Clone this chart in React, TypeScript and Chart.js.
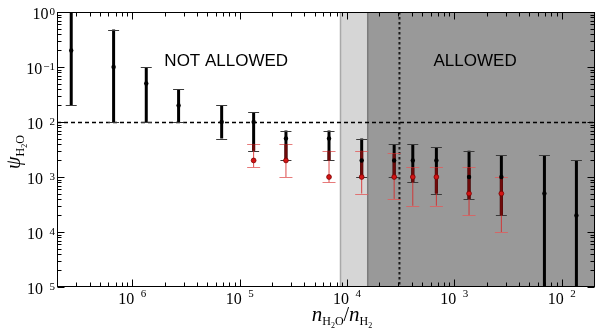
import React, { useEffect, useRef } from "react";
import { Chart, registerables } from "chart.js";

Chart.register(...registerables);

// ---- data ----
const xValues = [2.7e-7, 6.7e-7, 1.35e-6, 2.7e-6, 6.8e-6, 1.35e-5, 2.7e-5, 6.8e-5, 1.37e-4, 2.75e-4, 4.1e-4, 6.8e-4, 1.37e-3, 2.74e-3, 6.9e-3, 1.37e-2];
const blackCenter = [0.2, 0.1, 0.05, 0.02, 0.01, 0.01, 0.005, 0.005, 0.002, 0.002, 0.002, 0.002, 0.001, 0.001, 0.0005, 0.0002];
const blackHigh = [2, 0.48, 0.1, 0.04, 0.02, 0.015, 0.007, 0.007, 0.005, 0.004, 0.004, 0.0035, 0.003, 0.0025, 0.0025, 0.002];
const blackLow = [0.02, 0.01, 0.01, 0.01, 0.005, 0.003, 0.002, 0.002, 0.001, 0.001, 0.0008, 0.0005, 0.0004, 0.0002, 1e-6, 1e-6];

const redX = [1.35e-5, 2.7e-5, 6.8e-5, 1.37e-4, 2.75e-4, 4.1e-4, 6.8e-4, 1.37e-3, 2.74e-3];
const redCenter = [0.002, 0.002, 0.001, 0.001, 0.001, 0.001, 0.001, 0.0005, 0.0005];
const redHigh = [0.004, 0.004, 0.003, 0.003, 0.0027, 0.0015, 0.0015, 0.0015, 0.001];
const redLow = [0.0015, 0.001, 0.0008, 0.0005, 0.0004, 0.0003, 0.0003, 0.0002, 0.0001];

const xRange = [1.99e-7, 0.0205];
const yRange = [1e-5, 1];

const xTickValues = [1e-6, 1e-5, 1e-4, 1e-3, 1e-2];
const xTickSup = ["\u20026", "\u20025", "\u20024", "\u20023", "\u20022"];
const yTickValues = [1, 0.1, 0.01, 0.001, 1e-4, 1e-5];
const yTickSup = ["0", "\u22121", "\u20022", "\u20023", "\u20024", "\u20025"];

const thresholdY = 0.01;
const thresholdX = 3.08e-4;
const lightBand = [8.7e-5, 1.56e-4];
const darkBand = [1.56e-4, 0.0205];

const regionLabels = ["NOT ALLOWED", "ALLOWED"];
const regionLabelX = [7.5e-6, 1.56e-3];
const regionLabelY = [0.125, 0.125];

const SERIF = "'Liberation Serif', 'DejaVu Serif', serif";
const SANS = "'Liberation Sans', Arial, sans-serif";

function drawSegments(ctx: CanvasRenderingContext2D, segs: { t: string; f: string; dy: number }[], cx: number, by: number) {
  let total = 0;
  for (const s of segs) { ctx.font = s.f; total += ctx.measureText(s.t).width; }
  let x = cx - total / 2;
  ctx.textAlign = "left";
  ctx.textBaseline = "alphabetic";
  for (const s of segs) {
    ctx.font = s.f;
    ctx.fillText(s.t, x, by + s.dy);
    x += ctx.measureText(s.t).width;
  }
}

const customPlugin = {
  id: "custom",
  beforeDatasetsDraw(chart: any) {
    const { ctx, chartArea: a, scales } = chart;
    const x = scales.x, y = scales.y;
    ctx.save();
    ctx.beginPath();
    ctx.rect(a.left, a.top, a.right - a.left, a.bottom - a.top);
    ctx.clip();

    // bands
    const l1 = x.getPixelForValue(lightBand[0]);
    const l2 = x.getPixelForValue(lightBand[1]);
    const d1 = x.getPixelForValue(darkBand[0]);
    const d2 = x.getPixelForValue(darkBand[1]);
    ctx.fillStyle = "#d6d6d6";
    ctx.fillRect(l1, a.top, l2 - l1, a.bottom - a.top);
    ctx.fillStyle = "#999999";
    ctx.fillRect(d1, a.top, d2 - d1, a.bottom - a.top);
    ctx.lineWidth = 1.5;
    ctx.strokeStyle = "#a9a9a9";
    ctx.beginPath(); ctx.moveTo(l1, a.top); ctx.lineTo(l1, a.bottom); ctx.stroke();
    ctx.strokeStyle = "#7c7c7c";
    ctx.beginPath(); ctx.moveTo(d1, a.top); ctx.lineTo(d1, a.bottom); ctx.stroke();

    // region texts
    ctx.fillStyle = "#000";
    ctx.font = `17px ${SANS}`;
    ctx.textAlign = "center";
    ctx.textBaseline = "middle";
    regionLabels.forEach((t, i) => {
      ctx.fillText(t, x.getPixelForValue(regionLabelX[i]), y.getPixelForValue(regionLabelY[i]));
    });

    // dashed threshold lines
    const hy = Math.round(y.getPixelForValue(thresholdY)) + 0.5;
    ctx.strokeStyle = "#000";
    ctx.lineWidth = 1.5;
    ctx.setLineDash([4, 3]);
    ctx.beginPath(); ctx.moveTo(a.left, hy); ctx.lineTo(a.right, hy); ctx.stroke();
    const vx = x.getPixelForValue(thresholdX);
    ctx.strokeStyle = "#1a1a1a";
    ctx.lineWidth = 2;
    ctx.setLineDash([2.5, 2.5]);
    ctx.beginPath(); ctx.moveTo(vx, a.top); ctx.lineTo(vx, a.bottom); ctx.stroke();
    ctx.setLineDash([]);

    // black error bars
    xValues.forEach((xv, i) => {
      const px = x.getPixelForValue(xv);
      const hi = y.getPixelForValue(blackHigh[i]);
      const lo = y.getPixelForValue(blackLow[i]);
      ctx.strokeStyle = "#000";
      ctx.lineWidth = 3;
      ctx.beginPath(); ctx.moveTo(px, hi); ctx.lineTo(px, lo); ctx.stroke();
      ctx.strokeStyle = "#3a3a3a";
      ctx.lineWidth = 1;
      [hi, lo].forEach((yy) => {
        ctx.beginPath(); ctx.moveTo(px - 5.5, Math.round(yy) + 0.5); ctx.lineTo(px + 5.5, Math.round(yy) + 0.5); ctx.stroke();
      });
    });

    // red error bars
    redX.forEach((xv, i) => {
      const px = x.getPixelForValue(xv);
      const hi = y.getPixelForValue(redHigh[i]);
      const lo = y.getPixelForValue(redLow[i]);
      ctx.strokeStyle = "rgba(215,40,40,0.85)";
      ctx.lineWidth = 1;
      ctx.beginPath(); ctx.moveTo(px, hi); ctx.lineTo(px, lo); ctx.stroke();
      ctx.strokeStyle = "rgba(225,90,90,0.8)";
      [hi, lo].forEach((yy) => {
        ctx.beginPath(); ctx.moveTo(px - 6.5, Math.round(yy) + 0.5); ctx.lineTo(px + 6.5, Math.round(yy) + 0.5); ctx.stroke();
      });
      // overlap with black bar -> dark red
      const k = xValues.indexOf(xv);
      if (k >= 0) {
        const top = Math.max(y.getPixelForValue(Math.min(redHigh[i], blackHigh[k])), 0);
        const bot = y.getPixelForValue(Math.max(redLow[i], blackLow[k]));
        if (bot > top) {
          ctx.strokeStyle = "rgba(110,10,10,0.95)";
          ctx.lineWidth = 3;
          ctx.beginPath(); ctx.moveTo(px, top); ctx.lineTo(px, bot); ctx.stroke();
        }
      }
    });
    ctx.restore();
  },
  afterDraw(chart: any) {
    const { ctx, chartArea: a, scales } = chart;
    const x = scales.x, y = scales.y;
    ctx.save();
    // frame
    ctx.strokeStyle = "#000";
    ctx.lineWidth = 1;
    ctx.strokeRect(Math.round(a.left) + 0.5, Math.round(a.top) + 0.5, Math.round(a.right - a.left) - 1, Math.round(a.bottom - a.top) - 1);

    // ticks
    ctx.beginPath();
    const L = Math.round(a.left) + 0.5, R = Math.round(a.right) - 0.5;
    const T = Math.round(a.top) + 0.5, B = Math.round(a.bottom) - 0.5;
    for (let d = -7; d <= -1; d++) {
      for (let m = 1; m <= 9; m++) {
        const v = m * Math.pow(10, d);
        if (v < xRange[0] || v > xRange[1]) continue;
        const px = Math.round(x.getPixelForValue(v)) + 0.5;
        const len = m === 1 ? 7 : 4;
        ctx.moveTo(px, B); ctx.lineTo(px, B - len);
        ctx.moveTo(px, T); ctx.lineTo(px, T + len);
      }
    }
    for (let d = -5; d <= 0; d++) {
      for (let m = 1; m <= 9; m++) {
        const v = m * Math.pow(10, d);
        if (v < yRange[0] * 0.999 || v > yRange[1] * 1.001) continue;
        const py = Math.round(y.getPixelForValue(v)) + 0.5;
        const len = m === 1 ? 7 : 4;
        ctx.moveTo(L, py); ctx.lineTo(L + len, py);
        ctx.moveTo(R, py); ctx.lineTo(R - len, py);
      }
    }
    ctx.stroke();

    // tick labels
    ctx.fillStyle = "#000";
    ctx.textAlign = "left";
    ctx.textBaseline = "alphabetic";
    const baseFont = `16px ${SERIF}`;
    const supFont = `11px ${SERIF}`;
    xTickValues.forEach((v, i) => {
      const px = x.getPixelForValue(v);
      ctx.font = baseFont; const w1 = ctx.measureText("10").width;
      ctx.font = supFont; const w2 = ctx.measureText(xTickSup[i]).width;
      const start = px - (w1 + 1 + w2) / 2;
      ctx.font = baseFont; ctx.fillText("10", start, a.bottom + 17);
      ctx.font = supFont; ctx.fillText(xTickSup[i], start + w1 + 1, a.bottom + 10);
    });
    yTickValues.forEach((v, i) => {
      const py = y.getPixelForValue(v);
      ctx.font = baseFont; const w1 = ctx.measureText("10").width;
      ctx.font = supFont; const w2 = ctx.measureText(yTickSup[i]).width;
      const start = a.left - 2 - (w1 + 1 + w2);
      ctx.font = baseFont; ctx.fillText("10", start, py + 7);
      ctx.font = supFont; ctx.fillText(yTickSup[i], start + w1 + 1, py + 3);
    });

    // axis titles
    const it = `italic 21px ${SERIF}`;
    const sub = `12px ${SERIF}`;
    const sub2 = `8px ${SERIF}`;
    drawSegments(ctx, [
      { t: "n", f: it, dy: 0 },
      { t: "H", f: sub, dy: 4 },
      { t: "2", f: sub2, dy: 7 },
      { t: "O", f: sub, dy: 4 },
      { t: "/", f: `20px ${SERIF}`, dy: 0 },
      { t: "n", f: it, dy: 0 },
      { t: "H", f: sub, dy: 4 },
      { t: "2", f: sub2, dy: 7 },
    ], 342, 321);

    ctx.save();
    ctx.translate(16, 152);
    ctx.rotate(-Math.PI / 2);
    drawSegments(ctx, [
      { t: "\u03C8", f: `italic 20px ${SERIF}`, dy: 0 },
      { t: "H", f: sub, dy: 4 },
      { t: "2", f: sub2, dy: 7 },
      { t: "O", f: sub, dy: 4 },
    ], 0, 4);
    ctx.restore();
    ctx.restore();
  },
};

export default function App() {
  const ref = useRef<HTMLCanvasElement | null>(null);
  useEffect(() => {
    document.body.style.margin = "0";
    const canvas = ref.current;
    if (!canvas) return;
    const chart = new Chart(canvas, {
      type: "scatter",
      data: {
        datasets: [
          {
            data: xValues.map((v, i) => ({ x: v, y: blackCenter[i] })),
            pointRadius: 2.2,
            backgroundColor: "#000",
            borderColor: "#000",
            borderWidth: 0,
          },
          {
            data: redX.map((v, i) => ({ x: v, y: redCenter[i] })),
            pointRadius: 2.4,
            backgroundColor: "#d41414",
            borderColor: "#7a0000",
            borderWidth: 0.8,
          },
        ],
      },
      options: {
        responsive: false,
        devicePixelRatio: 1,
        animation: false,
        layout: { padding: { left: 57, right: 4, top: 12, bottom: 41 } },
        plugins: { legend: { display: false }, tooltip: { enabled: false } },
        scales: {
          x: { type: "logarithmic", min: xRange[0], max: xRange[1], display: false },
          y: { type: "logarithmic", min: yRange[0], max: yRange[1], display: false },
        },
      },
      plugins: [customPlugin],
    });
    return () => chart.destroy();
  }, []);
  return (
    <div style={{ width: 600, height: 328, background: "#fff" }}>
      <canvas ref={ref} width={600} height={328} style={{ display: "block" }} />
    </div>
  );
}
